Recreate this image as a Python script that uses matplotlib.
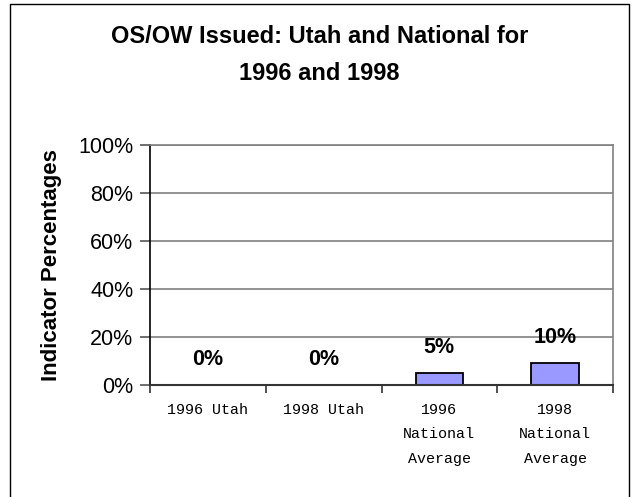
import matplotlib
matplotlib.use('Agg')
import matplotlib.pyplot as plt
from matplotlib.patches import Rectangle

# Data
categories = ['1996 Utah', '1998 Utah', '1996\nNational\nAverage', '1998\nNational\nAverage']
values = [0, 0, 5, 9.3]
value_labels = ['0%', '0%', '5%', '10%']
yticks = [0, 20, 40, 60, 80, 100]

plt.rcParams['font.family'] = ['Liberation Sans', 'DejaVu Sans']

fig = plt.figure(figsize=(6.39, 4.97), dpi=100)
ax = fig.add_axes([150/639, 1 - 385/497, (613 - 150)/639, (385 - 145)/497])

# outer frame (left, top, right)
fig.add_artist(Rectangle((10/639, -0.01), (629 - 10)/639, 1 - 4/497 + 0.01,
                         transform=fig.transFigure, fill=False,
                         edgecolor='black', linewidth=1.0))

x = range(len(categories))
ax.bar(x, values, width=0.41, color='#9999ff', edgecolor='black', linewidth=1.3, zorder=2)

for i, (v, lab) in enumerate(zip(values, value_labels)):
    ax.text(i, v + 10.5, lab, ha='center', va='center', fontsize=15.5, fontweight='bold')

ax.set_xlim(-0.5, 3.5)
ax.set_ylim(0, 100)
ax.set_yticks(yticks)
ax.set_yticklabels([f'{t}%' for t in yticks], fontsize=15.5)
ax.yaxis.grid(True, color='#808080', linewidth=1.2, zorder=0)

ax.set_xticks([-0.5, 0.5, 1.5, 2.5, 3.5])
ax.set_xticklabels([])
ax.tick_params(axis='x', length=6, width=1.2, color='#333333', direction='out')
ax.tick_params(axis='y', length=7, width=1.2, color='#555555', direction='out', pad=5)
for i, c in enumerate(categories):
    ax.text(i, -7.5, c, ha='center', va='top', fontsize=10.8, family='Liberation Mono',
            linespacing=1.95, transform=ax.transData)

ax.spines['left'].set_color('black')
ax.spines['left'].set_linewidth(1.2)
ax.spines['bottom'].set_color('#333333')
ax.spines['bottom'].set_linewidth(1.5)
for s in ['top', 'right']:
    ax.spines[s].set_color('#808080')
    ax.spines[s].set_linewidth(1.2)

ax.set_ylabel('Indicator Percentages', fontsize=16, fontweight='bold', labelpad=12)

fig.text(0.5, 1 - 55/497, 'OS/OW Issued: Utah and National for\n1996 and 1998',
         ha='center', va='center', fontsize=17, fontweight='bold', linespacing=1.75)

fig.savefig('out.png', dpi=100)
